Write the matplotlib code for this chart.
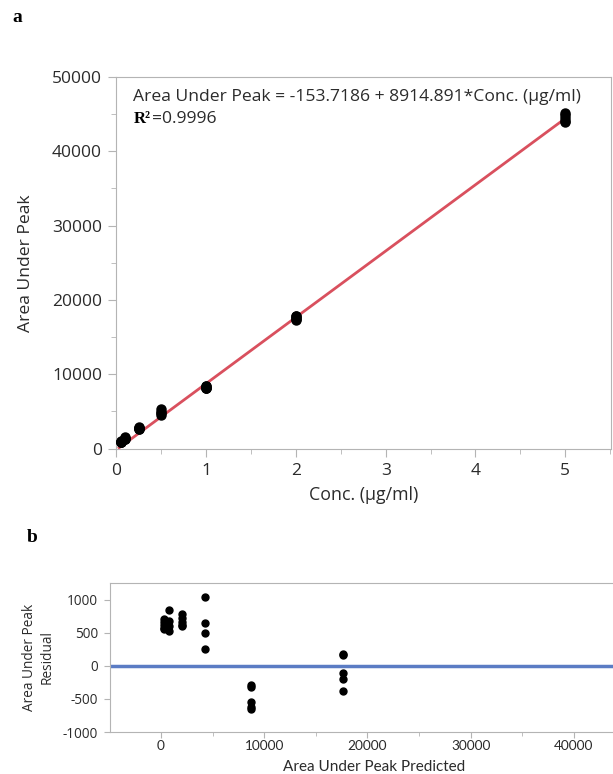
import numpy as np
import matplotlib.pyplot as plt
from matplotlib.ticker import MultipleLocator

plt.rcParams['font.family'] = ['Open Sans', 'DejaVu Sans']
plt.rcParams['axes.unicode_minus'] = False

# fitted line from the chart
intercept = -153.7186
slope = 8914.891
r2_text = '=0.9996'

conc = [0.05] * 5 + [0.1] * 4 + [0.25] * 5 + [0.5] * 4 + [1] * 5 + [2] * 5 + [5] * 5
area = [1002, 952, 912, 872, 852,
        1578, 1418, 1338, 1268,
        2865, 2795, 2735, 2695, 2675,
        5344, 4954, 4804, 4564,
        8471, 8436, 8211, 8136, 8111,
        17861, 17841, 17576, 17476, 17291,
        45200, 44900, 44500, 44100, 43900]

conc = np.array(conc)
area = np.array(area)
predicted = intercept + slope * conc
residual = area - predicted

spine_col = '#b4b4b4'
text_col = '#2b2b2b'

fig = plt.figure(figsize=(6.13, 7.74), dpi=100)

# panel a
ax1 = fig.add_axes([116 / 613, 325 / 774, 495 / 613, 372 / 774])
ax1.plot(conc, area, 'o', color='black', ms=6.5, zorder=3)
xs = np.array([conc.min() - 0.02, conc.max()])
ax1.plot(xs, intercept + slope * xs, color='#d9505e', lw=2, zorder=2)
ax1.set_xlim(-0.005, 5.51)
ax1.set_ylim(-50, 50000)
ax1.xaxis.set_major_locator(MultipleLocator(1))
ax1.xaxis.set_minor_locator(MultipleLocator(0.5))
ax1.yaxis.set_major_locator(MultipleLocator(10000))
ax1.yaxis.set_minor_locator(MultipleLocator(5000))
ax1.set_xlabel('Conc. (µg/ml)', fontsize=12.8, color=text_col, labelpad=5)
ax1.set_ylabel('Area Under Peak', fontsize=12.6, color=text_col, labelpad=13)
ax1.text(0.035, 0.947, 'Area Under Peak = -153.7186 + 8914.891*Conc. (µg/ml)',
         transform=ax1.transAxes, fontsize=12.6, color=text_col, va='center')
ax1.text(0.035, 0.887, 'R²', transform=ax1.transAxes, fontsize=12, color='black',
         family='Liberation Serif', weight='bold', va='center')
ax1.text(0.072, 0.887, r2_text, transform=ax1.transAxes, fontsize=12.6,
         color=text_col, va='center')

# panel b
ax2 = fig.add_axes([110 / 613, 42 / 774, 503 / 613, 149 / 774])
ax2.axhline(0, color='#5b7cc4', lw=2.5, zorder=2)
ax2.plot(predicted, residual, 'o', color='black', ms=5, zorder=3)
ax2.set_xlim(-4940, 43780)
ax2.set_ylim(-1000, 1255)
ax2.xaxis.set_major_locator(MultipleLocator(10000))
ax2.xaxis.set_minor_locator(MultipleLocator(5000))
ax2.yaxis.set_major_locator(MultipleLocator(500))
ax2.spines['right'].set_visible(False)
ax2.set_ylabel('Area Under Peak\nResidual', fontsize=9.8, color=text_col, labelpad=6)
fig.text(374 / 613, 0, 'Area Under Peak Predicted', fontsize=11,
         family=['Lato', 'DejaVu Sans'], color=text_col, ha='center', va='bottom')

for ax, fs in [(ax1, 12.5), (ax2, 9.8)]:
    for s in ax.spines.values():
        s.set_color(spine_col)
    ax.tick_params(which='both', direction='out', color=spine_col,
                   labelcolor=text_col, labelsize=fs, pad=4)
    ax.tick_params(which='major', length=6)
    ax.tick_params(which='minor', length=3.5)
ax2.tick_params(which='major', length=4.5)
ax2.tick_params(which='minor', length=3)
ax2.tick_params(axis='x', pad=1.5)
for lab in ax2.get_xticklabels():
    lab.set_family(['Lato', 'DejaVu Sans'])

fig.text(17 / 613, 756 / 774, 'a', fontsize=14, weight='bold',
         family='Liberation Serif', ha='center', va='center')
fig.text(32 / 613, 236 / 774, 'b', fontsize=14, weight='bold',
         family='Liberation Serif', ha='center', va='center')

fig.savefig('out.png', dpi=100)
